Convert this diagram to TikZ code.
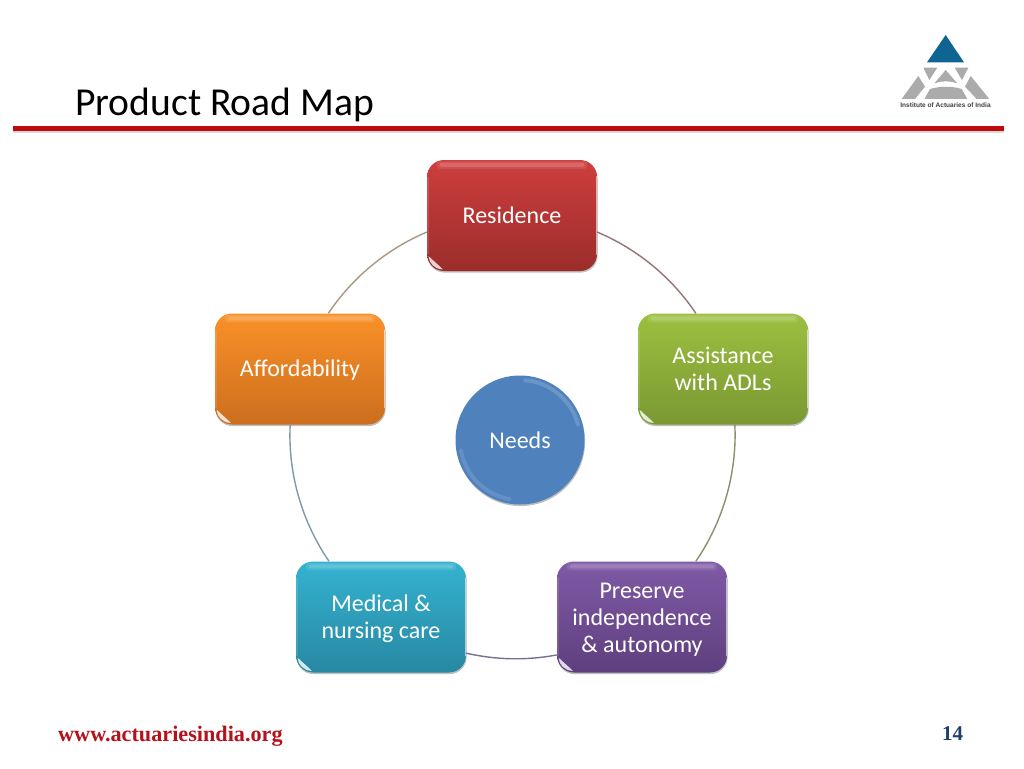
\documentclass[tikz,border=0pt]{standalone}
\usepackage{fontspec}
\setmainfont{Carlito}
\newfontfamily\footfont{Liberation Serif}
\newfontfamily\logofont{Liberation Sans}
\usetikzlibrary{shadows}
\definecolor{rulered}{HTML}{BE0A0A}
\definecolor{webred}{HTML}{B5121B}
\definecolor{pagenavy}{HTML}{1F3F6E}
\definecolor{logoblue}{HTML}{0F6491}
\definecolor{logogrey}{HTML}{ABABAB}
\definecolor{redtop}{RGB}{206,62,62}\definecolor{redbot}{RGB}{155,45,43}
\definecolor{greentop}{RGB}{156,192,64}\definecolor{greenbot}{RGB}{122,152,50}
\definecolor{purptop}{RGB}{128,90,166}\definecolor{purpbot}{RGB}{94,63,126}
\definecolor{tealtop}{RGB}{52,178,208}\definecolor{tealbot}{RGB}{40,136,162}
\definecolor{orantop}{RGB}{250,145,40}\definecolor{oranbot}{RGB}{204,110,30}
\definecolor{needsblue}{RGB}{79,129,189}
\definecolor{ringa}{RGB}{150,115,118}
\definecolor{ringb}{RGB}{135,145,110}
\definecolor{ringc}{RGB}{118,112,145}
\definecolor{ringd}{RGB}{125,155,165}
\definecolor{ringe}{RGB}{168,152,132}
\tikzset{
  softshadow/.style={drop shadow={shadow xshift=0.6pt,shadow yshift=-1.6pt,opacity=.25,fill=black}},
  glossbox/.style={rectangle,rounded corners=17pt,minimum width=170pt,minimum height=111pt,
    inner sep=0pt,align=center,text=white,softshadow,
    font=\fontsize{24}{27}\selectfont},
  ring/.style={line width=1.4pt,looseness=.87},
}
\newcommand{\gloss}[1]{%
  \fill[white,opacity=.10,rounded corners=3pt] ([xshift=10pt,yshift=-1.5pt]#1.north west) rectangle ([xshift=-10pt,yshift=-9pt]#1.north east);
  \fill[white,opacity=.14,rounded corners=2pt] ([xshift=13pt,yshift=-3pt]#1.north west) rectangle ([xshift=-13pt,yshift=-7pt]#1.north east);
  \draw[white,opacity=.6,line width=1.3pt,line cap=round] ([xshift=-1pt,yshift=-17pt]#1.north east) -- ([xshift=-1pt,yshift=17pt]#1.south east);
  \draw[white,opacity=.12,line width=2pt] ([xshift=1.5pt,yshift=-17pt]#1.north west) -- ([xshift=1.5pt,yshift=17pt]#1.south west);
  \fill[white,opacity=.8] ([xshift=1.8pt,yshift=15pt]#1.south west)
     .. controls ([xshift=2pt,yshift=8pt]#1.south west) and ([xshift=8pt,yshift=2pt]#1.south west) .. ([xshift=16pt,yshift=1.8pt]#1.south west)
     .. controls ([xshift=12pt,yshift=6pt]#1.south west) and ([xshift=7pt,yshift=10pt]#1.south west) .. cycle;
}
\begin{document}
\begin{tikzpicture}[x=1pt,y=-1pt]
\useasboundingbox (0,0) rectangle (1024,768);
\fill[white] (0,0) rectangle (1024,768);

% title and rule
\node[anchor=base west,inner sep=0pt,font=\fontsize{39.6}{44}\selectfont,text=black] (title) at (75,115) {Product Road Map};
\fill[black,opacity=.15] (13,127) rectangle (1004,133);
\fill[rulered] (13,126) rectangle (1004,130.5);

% logo
\begin{scope}[shift={(880,20)},x=0.3333pt,y=-0.3333pt]
  \fill[logoblue] (197,45) -- (141,127) -- (252,127) -- cycle;
  \fill[logogrey] (130,143) -- (172,143) -- (148,180) -- cycle;
  \fill[logogrey] (224,143) -- (265,143) -- (246,180) -- cycle;
  \fill[logogrey] (197,150) -- (232,190) .. controls (210,182) and (185,182) .. (163,190) -- cycle;
  \fill[logogrey] (115,168) -- (135,200) -- (105,237) -- (65,237) -- cycle;
  \fill[logogrey] (272,168) -- (255,200) -- (290,237) -- (328,237) -- cycle;
  \fill[logogrey] (150,207) .. controls (180,198) and (215,198) .. (245,207) -- (262,237) -- (133,237) -- cycle;
\end{scope}
\node[inner sep=0pt,font=\logofont\bfseries\fontsize{6.55}{7}\selectfont,text=black!75] (logotext) at (945.5,105.5) {Institute of Actuaries of India};

% nodes
\node[glossbox,top color=redtop,bottom color=redbot] (res) at (512,215.5) {Residence};
\node[glossbox,top color=greentop,bottom color=greenbot] (ass) at (723,369) {Assistance\\with ADLs};
\node[glossbox,top color=purptop,bottom color=purpbot] (pre) at (642,617) {\rule{0pt}{21pt}Preserve\\independence\\\&\ autonomy};
\node[glossbox,top color=tealtop,bottom color=tealbot] (med) at (381,617) {\rule{0pt}{21pt}Medical \&\\nursing care};
\node[glossbox,top color=orantop,bottom color=oranbot] (aff) at (300,369) {\rule{0pt}{19pt}Affordability};
\gloss{res}\gloss{ass}\gloss{pre}\gloss{med}\gloss{aff}

% centre
\node[circle,minimum size=129pt,inner sep=0pt,fill=needsblue,text=white,softshadow,font=\fontsize{24}{27}\selectfont] (needs) at (520,440) {Needs};
\draw[white,opacity=.16,line width=4pt,line cap=round] (needs.center) ++(-85:60) arc[start angle=-85,end angle=-15,radius=60];
\draw[white,opacity=.12,line width=4pt,line cap=round] (needs.center) ++(100:60) arc[start angle=100,end angle=170,radius=60];

% ring connectors
\draw[ring,draw=ringa] (res.-11.6) to[bend left=16.6] (ass.116.6);
\draw[ring,draw=ringb] (ass.-78.9) to[bend left=18.65] (pre.46.6);
\draw[ring,draw=ringc] (pre.204.1) to[bend left=11.7] (med.-23.8);
\draw[ring,draw=ringd] (med.133.4) to[bend left=18.7] (aff.-100.1);
\draw[ring,draw=ringe] (aff.63.4) to[bend left=16.6] (res.191.6);

% footer
\node[anchor=base west,inner sep=0pt,font=\footfont\bfseries\fontsize{22.2}{26}\selectfont,text=webred] (web) at (58,741) {www.actuariesindia.org};
\node[anchor=base,inner sep=0pt,font=\footfont\bfseries\fontsize{21}{24}\selectfont,text=pagenavy] (pg) at (952.5,740) {14};
\end{tikzpicture}
\end{document}
